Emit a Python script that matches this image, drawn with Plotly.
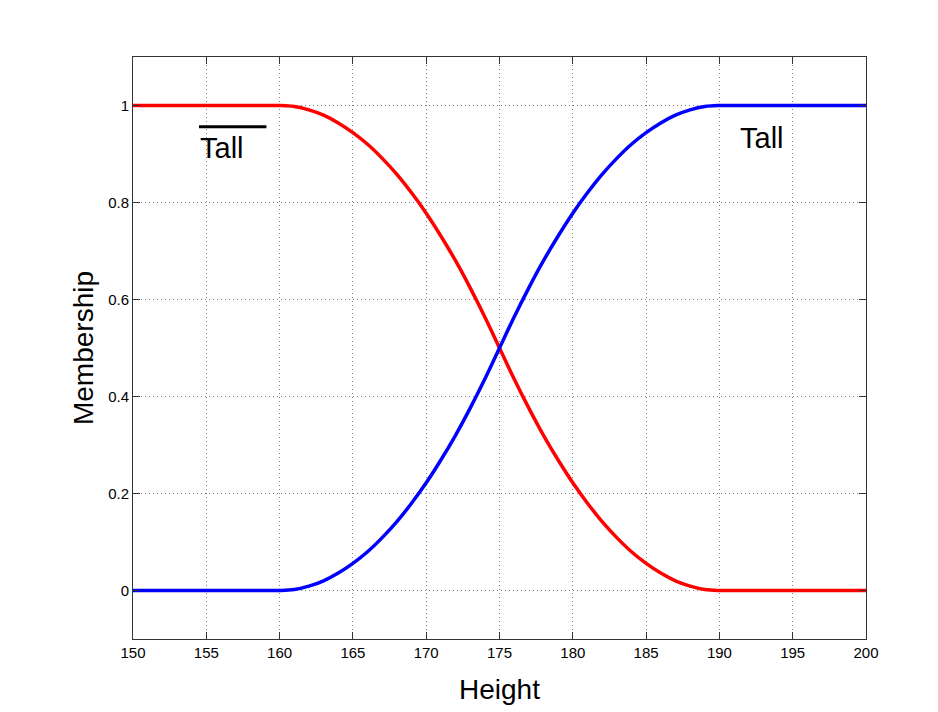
import plotly.graph_objects as go

# Height axis samples (cm)
height = [150, 151, 152, 153, 154, 155, 156, 157, 158, 159,
          160, 161, 162, 163, 164, 165, 166, 167, 168, 169,
          170, 171, 172, 173, 174, 175, 176, 177, 178, 179,
          180, 181, 182, 183, 184, 185, 186, 187, 188, 189,
          190, 191, 192, 193, 194, 195, 196, 197, 198, 199, 200]

# Membership degree of "Tall"
tall = [0, 0, 0, 0, 0, 0, 0, 0, 0, 0,
        0, 0.002, 0.009, 0.020, 0.036, 0.056, 0.080, 0.109, 0.142, 0.180,
        0.222, 0.269, 0.320, 0.376, 0.436, 0.500, 0.564, 0.624, 0.680, 0.731,
        0.778, 0.820, 0.858, 0.891, 0.920, 0.944, 0.964, 0.980, 0.991, 0.998,
        1, 1, 1, 1, 1, 1, 1, 1, 1, 1, 1]

# Membership degree of "not Tall" (complement)
not_tall = [1, 1, 1, 1, 1, 1, 1, 1, 1, 1,
            1, 0.998, 0.991, 0.980, 0.964, 0.944, 0.920, 0.891, 0.858, 0.820,
            0.778, 0.731, 0.680, 0.624, 0.564, 0.500, 0.436, 0.376, 0.320, 0.269,
            0.222, 0.180, 0.142, 0.109, 0.080, 0.056, 0.036, 0.020, 0.009, 0.002,
            0, 0, 0, 0, 0, 0, 0, 0, 0, 0, 0]

x_ticks = [150, 155, 160, 165, 170, 175, 180, 185, 190, 195, 200]
y_ticks = [0, 0.2, 0.4, 0.6, 0.8, 1]
y_tick_text = ["0", "0.2", "0.4", "0.6", "0.8", "1"]

FONT = "Liberation Sans, Arial, Helvetica, sans-serif"

fig = go.Figure()
fig.add_trace(go.Scatter(x=height, y=not_tall, mode="lines",
                         line=dict(color="#ff0000", width=3.5, shape="spline"),
                         showlegend=False, hoverinfo="skip"))
fig.add_trace(go.Scatter(x=height, y=tall, mode="lines",
                         line=dict(color="#0000ff", width=3.5, shape="spline"),
                         showlegend=False, hoverinfo="skip"))

# Labels for the two membership functions
fig.add_annotation(x=156.1, y=0.912, text="Tall", showarrow=False,
                   font=dict(family=FONT, size=29, color="black"))
fig.add_shape(type="line", x0=154.5, x1=159.1, y0=0.956, y1=0.956,
              line=dict(color="black", width=3))
fig.add_annotation(x=192.9, y=0.934, text="Tall", showarrow=False,
                   font=dict(family=FONT, size=29, color="black"))

axis_common = dict(
    showline=True, linecolor="#333333", linewidth=1, mirror="ticks",
    ticks="inside", ticklen=7, tickcolor="#333333",
    showgrid=True, gridcolor="#808080", griddash="1px,3px", gridwidth=1,
    zeroline=False,
    tickfont=dict(family=FONT, size=15, color="black"),
)

fig.update_xaxes(range=[150, 200], tickvals=x_ticks,
                 title=dict(text="Height", font=dict(family=FONT, size=28, color="black"),
                            standoff=19),
                 **axis_common)
fig.update_yaxes(range=[-0.1, 1.1], tickvals=y_ticks, ticktext=y_tick_text,
                 title=dict(text="Membership", font=dict(family=FONT, size=28, color="black"),
                            standoff=6),
                 **axis_common)

fig.update_layout(
    width=938, height=712,
    margin=dict(l=133, r=72, t=57, b=73),
    paper_bgcolor="white", plot_bgcolor="white",
)

fig.write_html("out.html")
